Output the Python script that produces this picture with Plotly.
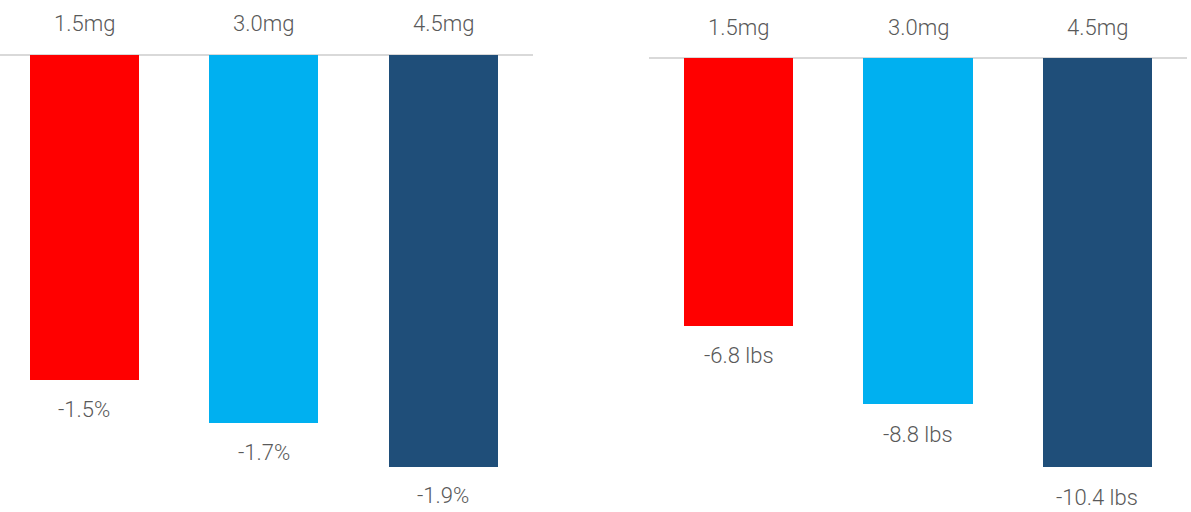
import plotly.graph_objects as go

categories = ["1.5mg", "3.0mg", "4.5mg"]
pct_values = [-1.5, -1.7, -1.9]
pct_labels = ["-1.5%", "-1.7%", "-1.9%"]
lbs_values = [-6.8, -8.8, -10.4]
lbs_labels = ["-6.8 lbs", "-8.8 lbs", "-10.4 lbs"]
colors = ["#FF0000", "#00B0F0", "#1F4E79"]

W, H = 1191, 512
FONT = "Roboto"
TXT = "#595959"

fig = go.Figure()
fig.add_trace(go.Bar(x=categories, y=pct_values, marker=dict(color=colors, line=dict(width=0)),
                     width=0.608, xaxis="x", yaxis="y", hoverinfo="skip"))
fig.add_trace(go.Bar(x=categories, y=lbs_values, marker=dict(color=colors, line=dict(width=0)),
                     width=0.608, xaxis="x2", yaxis="y2", hoverinfo="skip"))

fnt = dict(size=22, color=TXT, family=FONT, weight=300)
ann = []
for c, v, t in zip(categories, pct_values, pct_labels):
    ann.append(dict(x=c, y=v, xref="x", yref="y", text=t, showarrow=False,
                    yanchor="middle", yshift=-29, font=fnt))
    ann.append(dict(x=c, y=0, xref="x", yref="y", text=c, showarrow=False,
                    yanchor="middle", yshift=32, font=fnt))
for c, v, t in zip(categories, lbs_values, lbs_labels):
    ann.append(dict(x=c, y=v, xref="x2", yref="y2", text=t, showarrow=False,
                    yanchor="middle", yshift=-30, font=fnt))
    ann.append(dict(x=c, y=0, xref="x2", yref="y2", text=c, showarrow=False,
                    yanchor="middle", yshift=31, font=fnt))

axis_common = dict(showgrid=False, showticklabels=False, ticks="", showline=False, fixedrange=True)

fig.update_layout(
    width=W, height=H,
    margin=dict(l=0, r=0, t=0, b=0),
    paper_bgcolor="white", plot_bgcolor="white",
    showlegend=False,
    bargap=0,
    font=dict(family=FONT, color=TXT),
    xaxis=dict(domain=[0, 533 / W], range=[-0.471, 2.502], anchor="y", **axis_common),
    yaxis=dict(domain=[0, 1], range=[-2.109, 0.2538], anchor="x", zeroline=True,
               zerolinecolor="#D9D9D9", zerolinewidth=2, **axis_common),
    xaxis2=dict(domain=[649 / W, 1187 / W], range=[-0.5, 2.5], anchor="y2", **axis_common),
    yaxis2=dict(domain=[0, 1], range=[-11.537, 1.474], anchor="x2", zeroline=True,
                zerolinecolor="#D9D9D9", zerolinewidth=2, **axis_common),
    annotations=ann,
)

fig.write_html("out.html")
